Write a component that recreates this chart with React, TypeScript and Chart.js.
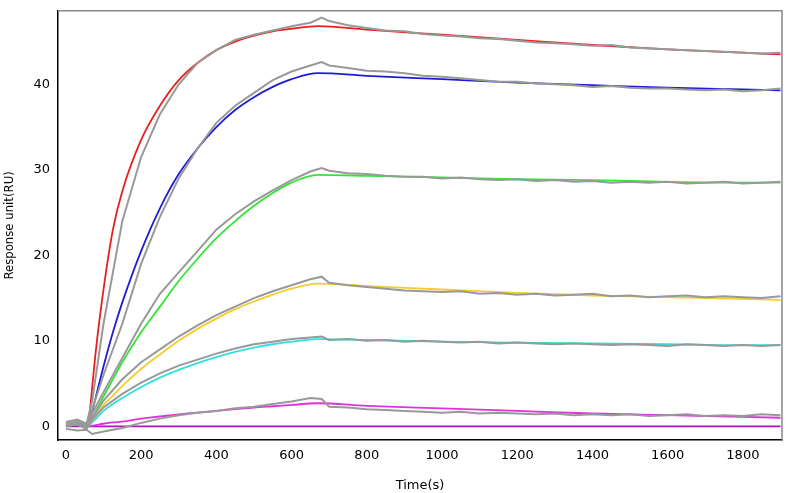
import React, { useEffect, useRef } from "react";
import { Chart, registerables } from "chart.js";
Chart.register(...registerables);

const fitT = [60, 80, 100, 125, 150, 200, 250, 300, 350, 400, 450, 500, 550, 600, 670, 800, 1000, 1200, 1400, 1600, 1800, 1900];
const redFit = [0, 9, 16, 23, 27.5, 33.5, 37.5, 40.5, 42.5, 44, 45, 45.7, 46.2, 46.5, 46.8, 46.4, 45.8, 45.2, 44.6, 44.1, 43.7, 43.5];
const blueFit = [0, 3.5, 7, 11, 14.5, 20.5, 25.5, 29.5, 32.5, 35, 37, 38.5, 39.7, 40.6, 41.3, 41, 40.6, 40.2, 39.9, 39.6, 39.4, 39.3];
const greenFit = [0, 1.8, 3.5, 5.5, 7.5, 11, 14, 17, 19.6, 22, 24, 25.8, 27.3, 28.5, 29.4, 29.3, 29.1, 28.9, 28.8, 28.6, 28.5, 28.5];
const yellowFit = [0, 1.3, 2.5, 3.6, 4.7, 6.7, 8.4, 10, 11.4, 12.6, 13.7, 14.6, 15.4, 16.1, 16.7, 16.4, 16, 15.6, 15.3, 15.1, 14.9, 14.8];
const cyanFit = [0, 0.9, 1.8, 2.6, 3.3, 4.6, 5.7, 6.6, 7.4, 8.1, 8.7, 9.2, 9.6, 9.9, 10.2, 10.1, 9.9, 9.8, 9.7, 9.6, 9.5, 9.5];
const magentaFit = [0, 0.15, 0.3, 0.45, 0.55, 0.9, 1.15, 1.4, 1.6, 1.8, 2.0, 2.2, 2.35, 2.5, 2.7, 2.4, 2.1, 1.8, 1.5, 1.3, 1.1, 1.0];
const zeroT = [0, 1900];
const zeroLine = [0, 0];

const grayT = [0, 30, 55, 70, 100, 150, 200, 250, 300, 350, 400, 450, 500, 550, 600, 650, 680, 700, 750, 800, 850, 900, 950, 1000, 1050, 1100, 1150, 1200, 1250, 1300, 1350, 1400, 1450, 1500, 1550, 1600, 1650, 1700, 1750, 1800, 1850, 1900];
const redRaw = [0.5, 0.8, 0.3, 3, 12, 24, 31.5, 36.5, 40, 42.5, 44, 45.2, 45.8, 46.3, 46.8, 47.2, 47.8, 47.4, 46.9, 46.6, 46.3, 46.2, 45.9, 45.7, 45.6, 45.4, 45.3, 45.1, 44.9, 44.8, 44.7, 44.5, 44.6, 44.3, 44.2, 44.1, 44, 43.9, 43.8, 43.7, 43.6, 43.7];
const blueRaw = [0.3, 0.6, 0.2, 2, 6, 12, 19, 24.5, 29, 32.5, 35.5, 37.5, 39, 40.5, 41.5, 42.2, 42.6, 42.2, 41.9, 41.6, 41.5, 41.3, 41, 40.9, 40.7, 40.5, 40.3, 40.3, 40.1, 40, 39.9, 39.7, 39.8, 39.6, 39.5, 39.5, 39.4, 39.3, 39.4, 39.2, 39.3, 39.5];
const greenRaw = [0.2, 0.5, 0, 1.5, 4, 8, 12, 15.5, 18, 20.5, 23, 24.8, 26.3, 27.6, 28.8, 29.8, 30.2, 29.9, 29.6, 29.5, 29.3, 29.2, 29.2, 29, 29.1, 28.9, 28.8, 28.9, 28.7, 28.8, 28.6, 28.7, 28.5, 28.6, 28.5, 28.6, 28.4, 28.5, 28.6, 28.4, 28.5, 28.6];
const yellowRaw = [0, 0.3, -0.2, 1, 3, 5.5, 7.5, 9, 10.5, 11.8, 13, 14, 15, 15.8, 16.5, 17.2, 17.5, 16.8, 16.5, 16.3, 16.1, 15.9, 15.8, 15.7, 15.8, 15.5, 15.6, 15.4, 15.5, 15.3, 15.4, 15.5, 15.2, 15.3, 15.1, 15.2, 15.3, 15.1, 15.2, 15.1, 15, 15.2];
const cyanRaw = [0, 0.2, -0.3, 0.8, 2.2, 3.8, 5.1, 6.2, 7.1, 7.8, 8.5, 9.1, 9.6, 9.9, 10.2, 10.4, 10.5, 10.1, 10.2, 10, 10.1, 9.9, 10, 9.9, 9.8, 9.9, 9.7, 9.8, 9.7, 9.6, 9.7, 9.6, 9.5, 9.6, 9.5, 9.4, 9.6, 9.5, 9.4, 9.5, 9.4, 9.5];
const magentaRaw = [-0.3, -0.5, -0.4, -0.9, -0.6, -0.2, 0.4, 0.9, 1.3, 1.6, 1.8, 2.1, 2.3, 2.6, 2.9, 3.3, 3.2, 2.3, 2.2, 2, 1.9, 1.8, 1.7, 1.6, 1.7, 1.5, 1.6, 1.5, 1.4, 1.5, 1.3, 1.4, 1.3, 1.4, 1.2, 1.3, 1.4, 1.2, 1.3, 1.2, 1.4, 1.3];

const pts = (t: number[], v: number[]) => t.map((x, i) => ({ x, y: v[i] }));

export default function App() {
  const ref = useRef<HTMLCanvasElement>(null);
  useEffect(() => {
    document.body.style.margin = "0";
    const raws = [redRaw, blueRaw, greenRaw, yellowRaw, cyanRaw, magentaRaw].map((v) => ({
      data: pts(grayT, v), borderColor: "#999999", borderWidth: 2, pointRadius: 0, tension: 0,
    }));
    const fits = [
      [redFit, "#e8201c"], [blueFit, "#1d1dd6"], [greenFit, "#33e533"],
      [yellowFit, "#f5cc2a"], [cyanFit, "#2ee0e0"], [magentaFit, "#e030e0"],
    ].map(([v, c]) => ({
      data: pts(fitT, v as number[]), borderColor: c as string, borderWidth: 1.8, pointRadius: 0, tension: 0.4, cubicInterpolationMode: "monotone" as const,
    }));
    const zero = { data: pts(zeroT, zeroLine), borderColor: "#b010c8", borderWidth: 1.8, pointRadius: 0 };
    const frame = {
      id: "frame",
      afterDraw(c: any) {
        const { ctx, chartArea: a } = c;
        ctx.save();
        ctx.strokeStyle = "#888";
        ctx.lineWidth = 1.5;
        ctx.beginPath();
        ctx.moveTo(a.left, a.top); ctx.lineTo(a.right, a.top); ctx.lineTo(a.right, a.bottom);
        ctx.stroke();
        ctx.restore();
      },
    };
    const chart = new Chart(ref.current!, {
      type: "line",
      data: { datasets: [...raws, ...fits, zero] as any },
      plugins: [frame],
      options: {
        animation: false, responsive: false,
        layout: { padding: { left: 0, top: 8, right: 21, bottom: 0 } },
        plugins: { legend: { display: false }, tooltip: { enabled: false } },
        scales: {
          x: {
            type: "linear", min: -21, max: 1904,
            afterBuildTicks: (s: any) => { const t = []; for (let v = 0; v <= 1900; v += 50) t.push({ value: v }); s.ticks = t; },
            ticks: { autoSkip: false, maxRotation: 0, color: "#000", font: { family: "DejaVu Sans", size: 13 }, callback: (v: any) => (v % 200 === 0 ? String(v) : "") },
            grid: { display: false, drawTicks: true, tickLength: 5, color: "#000" },
            border: { color: "#000", width: 1.5 },
            title: { display: true, text: "Time(s)", color: "#000", font: { family: "DejaVu Sans", size: 13 }, padding: 0 },
            afterFit: (s: any) => { s.height = 53; },
          },
          y: {
            min: -1.6, max: 48.6,
            afterBuildTicks: (s: any) => { const t = []; for (let v = 0; v <= 48; v += 2) t.push({ value: v }); s.ticks = t; },
            ticks: { autoSkip: false, color: "#000", font: { family: "DejaVu Sans", size: 13 }, callback: (v: any) => (v % 10 === 0 ? String(v) : "") },
            grid: { display: false, drawTicks: true, tickLength: 5, color: "#000" },
            border: { color: "#000", width: 1.5 },
            title: { display: true, text: "Response unit(RU)", color: "#000", font: { family: "Liberation Sans Narrow, DejaVu Sans Condensed", size: 13 }, padding: 2 },
            afterFit: (s: any) => { s.width = 58; },
          },
        },
      },
    });
    return () => chart.destroy();
  }, []);
  return <canvas ref={ref} width={803} height={493} style={{ display: "block" }} />;
}
